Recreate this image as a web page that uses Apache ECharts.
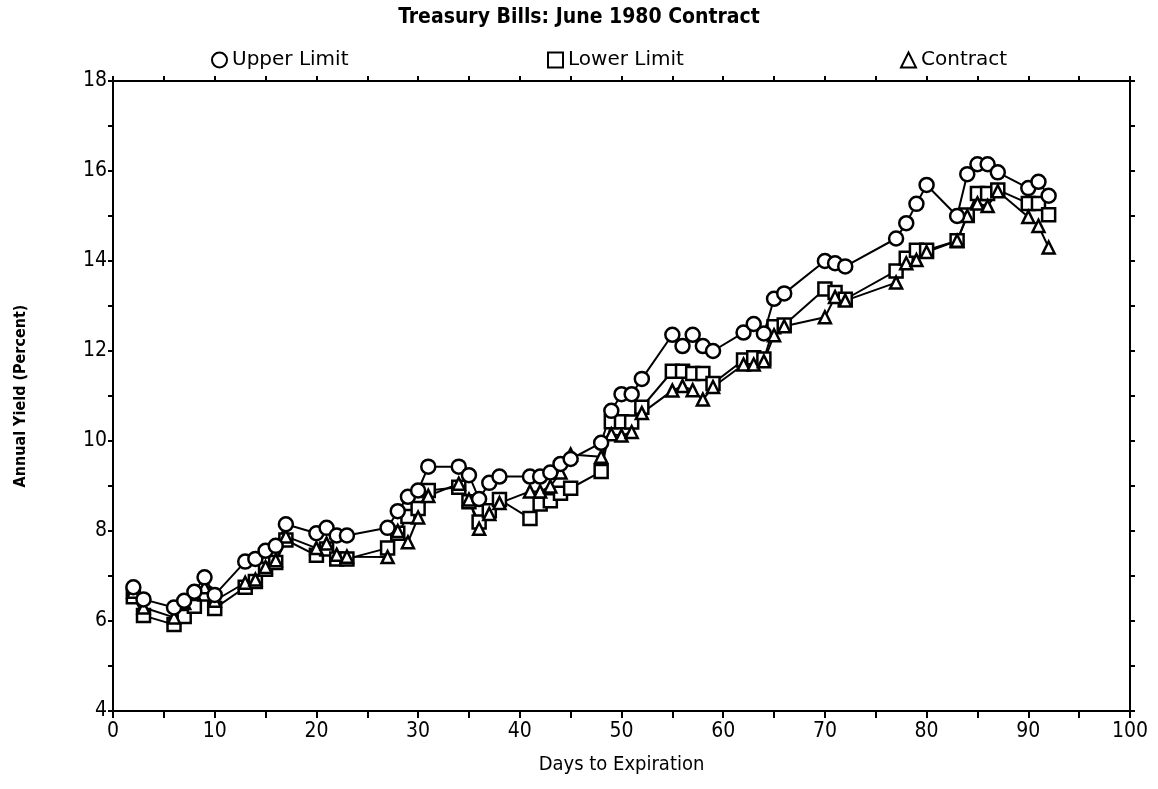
<!DOCTYPE html>
<html><head><meta charset="utf-8">
<script src="https://cdn.jsdelivr.net/npm/echarts@6/dist/echarts.min.js"></script>
<style>html,body{margin:0;padding:0;background:#fff}#c{width:1158px;height:789px}</style>
</head><body><div id="c"></div>
<script>
const days = [2,3,6,7,8,9,10,13,14,15,16,17,20,21,22,23,27,28,29,30,31,34,35,36,37,38,41,42,43,44,45,48,49,50,51,52,55,56,57,58,59,62,63,64,65,66,70,71,72,77,78,79,80,83,84,85,86,87,90,91,92];
const upperLimit = [6.75,6.48,6.3,6.45,6.65,6.97,6.58,7.32,7.38,7.56,7.67,8.15,7.95,8.07,7.9,7.9,8.07,8.44,8.76,8.9,9.43,9.43,9.24,8.71,9.07,9.21,9.21,9.21,9.3,9.49,9.6,9.96,10.67,11.04,11.04,11.38,12.36,12.11,12.36,12.11,12.0,12.41,12.6,12.39,13.16,13.28,14.0,13.95,13.88,14.5,14.84,15.27,15.69,15.0,15.93,16.15,16.15,15.97,15.62,15.76,15.45];
const lowerLimit = [6.54,6.12,5.92,6.1,6.33,6.6,6.28,6.75,6.88,7.15,7.3,7.8,7.46,7.6,7.38,7.38,7.62,7.95,8.32,8.5,8.9,8.97,8.65,8.2,8.45,8.7,8.28,8.6,8.67,8.84,8.95,9.32,10.43,10.43,10.42,10.75,11.55,11.55,11.5,11.5,11.28,11.8,11.85,11.82,12.54,12.58,13.38,13.3,13.15,13.78,14.06,14.24,14.24,14.45,15.02,15.5,15.5,15.58,15.28,15.28,15.03];
const contract = [6.65,6.3,6.08,6.4,6.6,6.75,6.45,6.85,6.92,7.2,7.35,7.88,7.62,7.72,7.47,7.43,7.42,8.0,7.75,8.3,8.78,9.05,8.7,8.05,8.38,8.62,8.88,8.88,8.99,9.3,9.7,9.65,10.15,10.12,10.2,10.62,11.12,11.22,11.13,10.92,11.2,11.7,11.7,11.77,12.35,12.55,12.75,13.2,13.12,13.52,13.95,14.02,14.2,14.45,15.0,15.28,15.22,15.55,14.98,14.78,14.3];
const seriesNames = ['Upper Limit','Lower Limit','Contract'];
const titleText = 'Treasury Bills: June 1980 Contract';
const xName = 'Days to Expiration';
const yName = 'Annual Yield (Percent)';

const pair = (vals) => days.map((d,i)=>[d, vals[i]]);
const font = 'DejaVu Sans Condensed, DejaVu Sans, sans-serif';
const black = '#000';
const chart = echarts.init(document.getElementById('c'), null, {renderer:'canvas'});
const mk = (name, data, symbol, size) => ({
  name, type:'line', data: pair(data), symbol, symbolSize:size,
  lineStyle:{color:black,width:2}, itemStyle:{color:'#fff',borderColor:black,borderWidth:2.5},
  showAllSymbol:true, animation:false, z: 3
});
const legendBase = {
  textStyle:{fontFamily:'DejaVu Sans, sans-serif',fontSize:20,color:black},
  itemWidth:15,itemHeight:15,itemGap:0,selectedMode:false,
  itemStyle:{color:'#fff',borderColor:black,borderWidth:2},
  lineStyle:{width:0,opacity:0}
};
const axLine = {show:true,onZero:false,lineStyle:{color:black,width:2}};
chart.setOption({
  backgroundColor:'#fff',
  animation:false,
  title:{text:titleText,left:'center',top:2,textStyle:{fontFamily:font,fontWeight:'bold',fontSize:21,color:black}},
  legend:[
    Object.assign({}, legendBase, {data:[{name:seriesNames[0],icon:'circle'}], left:206, top:45}),
    Object.assign({}, legendBase, {data:[{name:seriesNames[1],icon:'rect'}], left:542, top:45}),
    Object.assign({}, legendBase, {data:[{name:seriesNames[2],icon:'triangle'}], left:895, top:45})
  ],
  grid:{left:113,right:28,top:81,bottom:78},
  xAxis:[
    {type:'value',min:0,max:100,interval:5,position:'bottom',
     name:xName,nameLocation:'middle',nameGap:44,nameTextStyle:{fontFamily:font,fontSize:20,color:black},
     axisLine:axLine,
     axisTick:{show:true,length:7,lineStyle:{color:black,width:2}},
     axisLabel:{fontFamily:font,fontSize:21,color:black,margin:10,formatter:v=> v%10===0? String(v):''},
     splitLine:{show:false}},
    {type:'value',min:0,max:100,interval:5,position:'top',
     axisLine:axLine,
     axisTick:{show:true,length:5,lineStyle:{color:black,width:2}},
     axisLabel:{show:false},splitLine:{show:false}}
  ],
  yAxis:[
    {type:'value',min:4,max:18,interval:1,position:'left',
     name:yName,nameLocation:'middle',nameGap:84,nameRotate:90,
     nameTextStyle:{fontFamily:font,fontSize:16,fontWeight:'bold',color:black},
     axisLine:axLine,
     axisTick:{show:true,length:5,lineStyle:{color:black,width:2}},
     axisLabel:{fontFamily:font,fontSize:21,color:black,margin:6,formatter:v=> v%2===0? String(v):''},
     splitLine:{show:false}},
    {type:'value',min:4,max:18,interval:1,position:'right',
     axisLine:axLine,
     axisTick:{show:true,length:5,lineStyle:{color:black,width:2}},
     axisLabel:{show:false},splitLine:{show:false}}
  ],
  series:[
    mk(seriesNames[1], lowerLimit, 'rect', 13),
    mk(seriesNames[2], contract, 'triangle', 12),
    mk(seriesNames[0], upperLimit, 'circle', 14)
  ]
});
</script></body></html>
